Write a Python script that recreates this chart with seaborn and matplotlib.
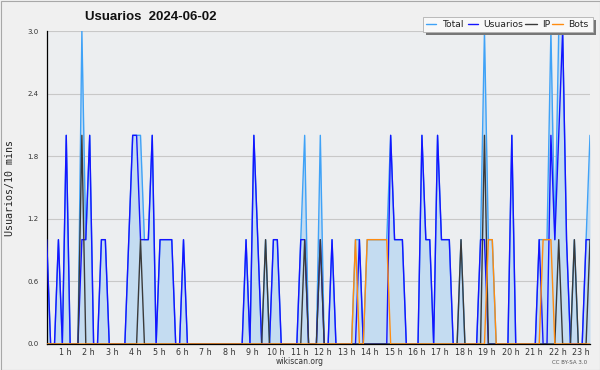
import numpy as np
import pandas as pd
import matplotlib
matplotlib.use("Agg")
import matplotlib.pyplot as plt
import seaborn as sns
from matplotlib.lines import Line2D
from matplotlib.patches import Rectangle
from matplotlib.ticker import FixedLocator, MultipleLocator

# ---------------- data (10-minute intervals) ----------------
usuarios = [1, 0, 0, 1, 0, 2, 0, 0, 0, 1,
            1, 2, 0, 0, 1, 1, 0, 0, 0, 0,
            0, 1, 2, 2, 1, 1, 1, 2, 0, 1,
            1, 1, 1, 0, 0, 1, 0, 0, 0, 0,
            0, 0, 0, 0, 0, 0, 0, 0, 0, 0,
            0, 1, 0, 2, 1, 0, 0, 0, 1, 1,
            0, 0, 0, 0, 0, 1, 1, 0, 0, 0,
            1, 0, 0, 1, 0, 0, 0, 0, 0, 0,
            1, 0, 0, 0, 0, 0, 0, 0, 2, 1,
            1, 1, 0, 0, 0, 0, 2, 1, 1, 0,
            2, 1, 1, 1, 0, 0, 0, 0, 0, 0,
            0, 1, 1, 0, 0, 0, 0, 0, 0, 2,
            0, 0, 0, 0, 0, 0, 1, 0, 0, 2,
            1, 2, 3, 1, 0, 0, 0, 0, 1, 1]
ip = [0, 0, 0, 0, 0, 0, 0, 0, 0, 2,
      0, 0, 0, 0, 0, 0, 0, 0, 0, 0,
      0, 0, 0, 0, 1, 0, 0, 0, 0, 0,
      0, 0, 0, 0, 0, 0, 0, 0, 0, 0,
      0, 0, 0, 0, 0, 0, 0, 0, 0, 0,
      0, 0, 0, 0, 0, 0, 1, 0, 0, 0,
      0, 0, 0, 0, 0, 0, 1, 0, 0, 0,
      1, 0, 0, 0, 0, 0, 0, 0, 0, 0,
      0, 0, 0, 0, 0, 0, 0, 0, 0, 0,
      0, 0, 0, 0, 0, 0, 0, 0, 0, 0,
      0, 0, 0, 0, 0, 0, 1, 0, 0, 0,
      0, 0, 2, 0, 0, 0, 0, 0, 0, 0,
      0, 0, 0, 0, 0, 0, 0, 0, 0, 0,
      0, 1, 0, 0, 0, 1, 0, 0, 0, 1]
bots = [0, 0, 0, 0, 0, 0, 0, 0, 0, 0,
        0, 0, 0, 0, 0, 0, 0, 0, 0, 0,
        0, 0, 0, 0, 0, 0, 0, 0, 0, 0,
        0, 0, 0, 0, 0, 0, 0, 0, 0, 0,
        0, 0, 0, 0, 0, 0, 0, 0, 0, 0,
        0, 0, 0, 0, 0, 0, 0, 0, 0, 0,
        0, 0, 0, 0, 0, 0, 0, 0, 0, 0,
        0, 0, 0, 0, 0, 0, 0, 0, 0, 1,
        0, 0, 1, 1, 1, 1, 1, 1, 0, 0,
        0, 0, 0, 0, 0, 0, 0, 0, 0, 0,
        0, 0, 0, 0, 0, 0, 0, 0, 0, 0,
        0, 0, 0, 1, 1, 0, 0, 0, 0, 0,
        0, 0, 0, 0, 0, 0, 0, 1, 1, 1,
        0, 0, 0, 0, 0, 0, 0, 0, 0, 0]
total = [1, 0, 0, 1, 0, 2, 0, 0, 0, 3,
         1, 2, 0, 0, 1, 1, 0, 0, 0, 0,
         0, 1, 2, 2, 2, 1, 1, 2, 0, 1,
         1, 1, 1, 0, 0, 1, 0, 0, 0, 0,
         0, 0, 0, 0, 0, 0, 0, 0, 0, 0,
         0, 1, 0, 2, 1, 0, 1, 0, 1, 1,
         0, 0, 0, 0, 0, 1, 2, 0, 0, 0,
         2, 0, 0, 1, 0, 0, 0, 0, 0, 1,
         1, 0, 1, 1, 1, 1, 1, 1, 2, 1,
         1, 1, 0, 0, 0, 0, 2, 1, 1, 0,
         2, 1, 1, 1, 0, 0, 1, 0, 0, 0,
         0, 1, 3, 1, 1, 0, 0, 0, 0, 2,
         0, 0, 0, 0, 0, 0, 1, 1, 1, 3,
         1, 3, 3, 1, 0, 1, 0, 0, 1, 2]
hour_labels = ["1 h", "2 h", "3 h", "4 h", "5 h", "6 h", "7 h", "8 h", "9 h",
               "10 h", "11 h", "12 h", "13 h", "14 h", "15 h", "16 h", "17 h",
               "18 h", "19 h", "20 h", "21 h", "22 h", "23 h"]
y_ticks = [0.0, 0.6, 1.2, 1.8, 2.4, 3.0]
y_tick_labels = ["0.0", "0.6", "1.2", "1.8", "2.4", "3.0"]
series_names = ["Total", "Usuarios", "IP", "Bots"]

# ---------------- styling ----------------
W, H = 600, 370
C_TOTAL = "#3fa2f7"
C_FILL = "#c4dcf1"
C_USU = "#1414ff"
C_IP = "#3a3a3a"
C_BOTS = "#ff8c10"
colors = [C_TOTAL, C_USU, C_IP, C_BOTS]

sns.set_style("white")
plt.rcParams["font.family"] = ["DejaVu Sans"]

df = pd.DataFrame({"slot": np.arange(len(usuarios)),
                   "Total": total, "Usuarios": usuarios,
                   "IP": ip, "Bots": bots})

fig = plt.figure(figsize=(W / 100, H / 100), dpi=100, facecolor="#f0f0f0")


def fx(px):
    return px / W


def fy(py):
    return 1 - py / H


ax_l, ax_r, ax_t, ax_b = 46.7, 590.0, 31.0, 344.0
ax = fig.add_axes([fx(ax_l), fy(ax_b), fx(ax_r) - fx(ax_l), fy(ax_t) - fy(ax_b)])
ax.set_facecolor("#eceef0")

for yv in y_ticks[1:]:
    ax.axhline(yv, color="#c8c8c8", lw=0.8, zorder=0)

ax.fill_between(df["slot"], 0, df["Total"], color=C_FILL, lw=0, zorder=1)
for name, col, z in zip(series_names, colors, [2, 3, 4, 5]):
    sns.lineplot(data=df, x="slot", y=name, ax=ax, color=col, lw=1.0,
                 zorder=z, legend=False)

ax.set_xlim(0, len(usuarios) - 1)
ax.set_ylim(0, 3.0)
ax.set_xlabel("")
ax.set_ylabel("")
fig.text(fx(10.5), fy(187.5), "Usuarios/10 mins", family="DejaVu Sans Mono",
         fontsize=7.2, color="#222222", rotation=90, ha="center", va="center")

for s in ["top", "right"]:
    ax.spines[s].set_visible(False)
for s in ["left", "bottom"]:
    ax.spines[s].set_color("black")
    ax.spines[s].set_linewidth(0.9)

ax.yaxis.set_major_locator(FixedLocator(y_ticks))
ax.set_yticklabels(y_tick_labels)
ax.yaxis.set_minor_locator(MultipleLocator(0.15))
ax.tick_params(axis="y", which="major", length=4, width=0.8, pad=2,
               labelsize=5, labelcolor="#333333", color="black")
ax.tick_params(axis="y", which="minor", length=3, width=0.8, color="black")

label_pos = [6 * (i + 1) - 1.3 for i in range(len(hour_labels))]
ax.xaxis.set_major_locator(FixedLocator(label_pos))
ax.set_xticklabels(hour_labels)
ax.xaxis.set_minor_locator(MultipleLocator(1))
ax.tick_params(axis="x", which="major", length=0, pad=3,
               labelsize=5.8, labelcolor="#333333")
ax.tick_params(axis="x", which="minor", length=3, width=0.8, color="black")

# title
fig.text(fx(85), fy(16.5), "Usuarios  2024-06-02", family="Liberation Sans",
         fontweight="bold", fontsize=9.5, ha="left", va="center", color="#111111")

# legend (manual box with shadow)
lx0, ly0, lx1, ly1 = 422.7, 16.7, 592.7, 31.7
fig.add_artist(Rectangle((fx(lx0 + 3), fy(ly1 + 3)), fx(lx1 - lx0), fy(ly0) - fy(ly1),
                         transform=fig.transFigure, facecolor="#777777",
                         edgecolor="none", zorder=20))
fig.add_artist(Rectangle((fx(lx0), fy(ly1)), fx(lx1 - lx0), fy(ly0) - fy(ly1),
                         transform=fig.transFigure, facecolor="#f8f8f8",
                         edgecolor="#b0b0b0", lw=0.6, zorder=21))
leg_lines = [(426, 436), (468.3, 478.3), (525, 536.7), (551.7, 563.3)]
leg_text_x = [442.3, 483.3, 541.7, 568.3]
ly = 24.3
for (a, b), tx, name, col in zip(leg_lines, leg_text_x, series_names, colors):
    fig.add_artist(Line2D([fx(a), fx(b)], [fy(ly), fy(ly)], transform=fig.transFigure,
                          color=col, lw=1.0, zorder=22))
    fig.text(fx(tx), fy(ly), name, fontsize=6.7, ha="left", va="center",
             color="#222222", zorder=23)

# footer texts
fig.text(fx(300), fy(361), "wikiscan.org", fontsize=5.5, ha="center", va="center",
         color="#333333")
fig.text(fx(570), fy(362.5), "CC BY-SA 3.0", fontsize=4.0, ha="center", va="center",
         color="#555555")

# outer border
fig.add_artist(Rectangle((0.5 / W, 0.5 / H), 1 - 1 / W, 1 - 1 / H,
                         transform=fig.transFigure, fill=False,
                         edgecolor="#a8a8a8", lw=0.8, zorder=30))

fig.savefig("out.png", dpi=100, facecolor=fig.get_facecolor())
